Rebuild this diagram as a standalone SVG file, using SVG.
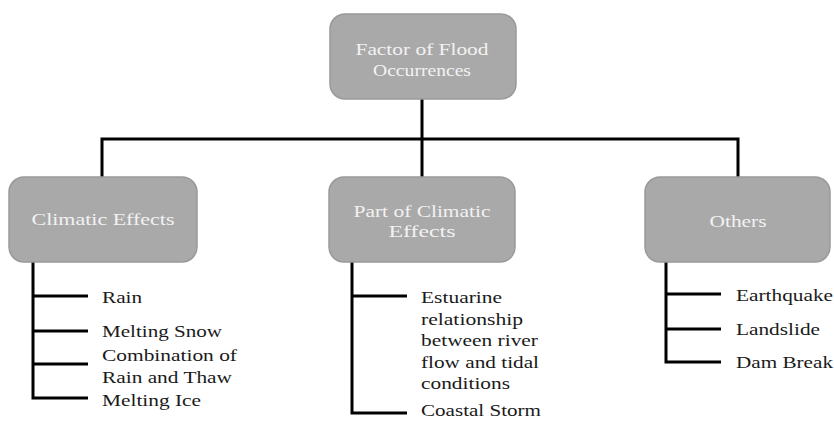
<svg xmlns="http://www.w3.org/2000/svg" width="834" height="421" viewBox="0 0 834 421">
<style>
.box{fill:#a9a9a9;stroke:#999;stroke-width:1.5}
.bt{font-family:"Liberation Serif","Times New Roman",serif;font-size:17px;fill:#f2f2f2;text-anchor:middle}
.lt{font-family:"Liberation Serif","Times New Roman",serif;font-size:17px;fill:#1a1a1a}
.cn{fill:none;stroke:#000;stroke-width:3;stroke-linejoin:miter}
</style>
<rect width="834" height="421" fill="#fff"/>
<g id="connectors">
<path class="cn" d="M422 99V139M102 178V139H738V178M422 139V178"/>
<path class="cn" d="M33 262V398H88M33 296H88M33 331H88M33 364H88"/>
<path class="cn" d="M352 262V413H407M352 296H407"/>
<path class="cn" d="M666 262V362H721M666 294H721M666 329H721"/>
</g>
<g id="node-root">
<rect class="box" x="330" y="14" width="186" height="85" rx="15"/>
<text class="bt" x="422" y="55" textLength="133" lengthAdjust="spacingAndGlyphs">Factor of Flood</text>
<text class="bt" x="422" y="76" textLength="98" lengthAdjust="spacingAndGlyphs">Occurrences</text>
</g>
<g id="node-climatic">
<rect class="box" x="9" y="177" width="188" height="85" rx="15"/>
<text class="bt" x="103" y="225" textLength="143" lengthAdjust="spacingAndGlyphs">Climatic Effects</text>
</g>
<g id="node-part">
<rect class="box" x="329" y="177" width="186" height="85" rx="15"/>
<text class="bt" x="422" y="217" textLength="137" lengthAdjust="spacingAndGlyphs">Part of Climatic</text>
<text class="bt" x="422" y="237" textLength="67" lengthAdjust="spacingAndGlyphs">Effects</text>
</g>
<g id="node-others">
<rect class="box" x="645" y="177" width="185" height="85" rx="15"/>
<text class="bt" x="738" y="227" textLength="57" lengthAdjust="spacingAndGlyphs">Others</text>
</g>
<g id="list-climatic">
<text class="lt" x="102" y="303" textLength="40" lengthAdjust="spacingAndGlyphs">Rain</text>
<text class="lt" x="102" y="337" textLength="120" lengthAdjust="spacingAndGlyphs">Melting Snow</text>
<text class="lt" x="102" y="361" textLength="135" lengthAdjust="spacingAndGlyphs">Combination of</text>
<text class="lt" x="102" y="383" textLength="130" lengthAdjust="spacingAndGlyphs">Rain and Thaw</text>
<text class="lt" x="102" y="406" textLength="99" lengthAdjust="spacingAndGlyphs">Melting Ice</text>
</g>
<g id="list-part">
<text class="lt" x="421" y="303" textLength="81" lengthAdjust="spacingAndGlyphs">Estuarine</text>
<text class="lt" x="421" y="325" textLength="102" lengthAdjust="spacingAndGlyphs">relationship</text>
<text class="lt" x="421" y="346" textLength="117" lengthAdjust="spacingAndGlyphs">between river</text>
<text class="lt" x="421" y="368" textLength="118" lengthAdjust="spacingAndGlyphs">flow and tidal</text>
<text class="lt" x="421" y="389" textLength="89" lengthAdjust="spacingAndGlyphs">conditions</text>
<text class="lt" x="421" y="416" textLength="120" lengthAdjust="spacingAndGlyphs">Coastal Storm</text>
</g>
<g id="list-others">
<text class="lt" x="736" y="301" textLength="97" lengthAdjust="spacingAndGlyphs">Earthquake</text>
<text class="lt" x="736" y="335" textLength="84" lengthAdjust="spacingAndGlyphs">Landslide</text>
<text class="lt" x="736" y="368" textLength="97" lengthAdjust="spacingAndGlyphs">Dam Break</text>
</g>
</svg>
